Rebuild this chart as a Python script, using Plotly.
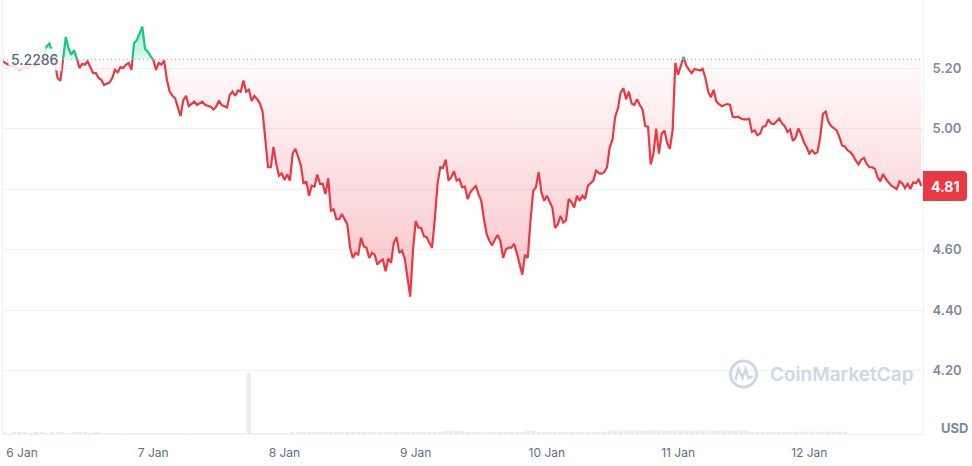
import numpy as np
import pandas as pd
import plotly.graph_objects as go

# 7-day price chart, 30 minute samples starting 5 Jan 20:30
OPEN_PRICE = 5.2286
LAST_PRICE = 4.81
START = "2025-01-05 20:30"

PRICES = [
    5.222, 5.217, 5.211, 5.205, 5.208, 5.200, 5.194, 5.197, 5.205, 5.200,
    5.208, 5.211, 5.205, 5.214, 5.222, 5.239, 5.272, 5.281, 5.255, 5.217,
    5.167, 5.158, 5.228, 5.303, 5.267, 5.244, 5.259, 5.233, 5.200, 5.214,
    5.211, 5.222, 5.205, 5.183, 5.183, 5.167, 5.161, 5.144, 5.148, 5.152,
    5.167, 5.194, 5.186, 5.203, 5.200, 5.211, 5.217, 5.194, 5.283, 5.292,
    5.317, 5.337, 5.263, 5.255, 5.239, 5.228, 5.194, 5.217, 5.211, 5.225,
    5.161, 5.122, 5.108, 5.100, 5.070, 5.041, 5.094, 5.108, 5.074,
    5.083, 5.089, 5.078, 5.083, 5.089, 5.078, 5.074, 5.072, 5.063, 5.072,
    5.092, 5.078, 5.074, 5.070, 5.111, 5.122, 5.108, 5.126, 5.122, 5.159,
    5.122, 5.128, 5.091, 5.108, 5.097, 5.083, 5.056, 4.972, 4.872, 4.872,
    4.939, 4.883, 4.844, 4.852, 4.830, 4.848, 4.828, 4.917, 4.933, 4.906,
    4.878, 4.817, 4.825, 4.778, 4.811, 4.808, 4.848, 4.817, 4.817, 4.783,
    4.836, 4.728, 4.733, 4.700, 4.700, 4.717, 4.700, 4.683, 4.606, 4.572,
    4.589, 4.583, 4.639, 4.611, 4.606, 4.572, 4.589,
    4.583, 4.550, 4.561, 4.567, 4.528, 4.570, 4.556, 4.622, 4.641, 4.589,
    4.597, 4.570, 4.506, 4.444, 4.594, 4.694, 4.672, 4.672, 4.644, 4.641,
    4.622, 4.606, 4.700, 4.817, 4.872, 4.870, 4.897, 4.828, 4.839, 4.859,
    4.828, 4.833, 4.806, 4.808, 4.767, 4.789, 4.800, 4.811, 4.783, 4.761,
    4.700, 4.650, 4.628, 4.614, 4.633, 4.648, 4.628, 4.572, 4.600, 4.606,
    4.606, 4.619, 4.589, 4.556, 4.517, 4.583, 4.572, 4.694, 4.794, 4.806,
    4.856, 4.789, 4.761, 4.778, 4.759, 4.739, 4.672, 4.683,
    4.711, 4.689, 4.697, 4.767, 4.756, 4.739, 4.778, 4.761, 4.778, 4.767,
    4.811, 4.819, 4.828, 4.861, 4.852, 4.850, 4.856, 4.872, 4.939, 4.963,
    5.039, 5.067, 5.119, 5.133, 5.097, 5.122, 5.083, 5.078, 5.097, 5.078,
    5.063, 5.008, 5.006, 4.881, 4.917, 5.000, 4.917, 4.983, 4.994, 4.952,
    4.933, 4.994, 5.217, 5.178, 5.205, 5.237, 5.208, 5.194, 5.183, 5.197,
    5.194, 5.192, 5.197, 5.167, 5.122, 5.103, 5.128, 5.089, 5.081, 5.074,
    5.078, 5.081, 5.078, 5.039, 5.037, 5.039, 5.033, 5.030,
    5.030, 5.032, 4.989, 4.994, 4.978, 4.983, 5.006, 5.008, 5.030, 5.017,
    5.014, 5.022, 5.033, 5.017, 5.008, 4.989, 4.997, 4.959, 4.970, 5.000,
    4.981, 4.955, 4.939, 4.917, 4.928, 4.917, 4.922, 4.972, 5.048, 5.056,
    5.022, 5.008, 5.000, 4.994, 4.972, 4.944, 4.941, 4.928, 4.922, 4.911,
    4.894, 4.881, 4.897, 4.903, 4.883, 4.872, 4.872, 4.867, 4.839, 4.825,
    4.850, 4.833, 4.822, 4.811, 4.806, 4.800, 4.825, 4.819, 4.803, 4.817,
    4.800, 4.822, 4.819, 4.831, 4.810,
]

# hourly volume (M USD), same start
VOLUMES = [
    0.7, 0.6, 0.8, 0.7, 0.7, 0.6, 0.8, 0.7, 0.6, 0.7, 0.8, 0.7, 0.6, 0.7, 0.7, 0.8, 0.6, 0.7,
    0.5, 0.4, 0.5, 0.6, 0.5, 0.4, 0.5, 0.5, 0.6, 0.5, 0.4, 0.5, 0.5, 0.6, 0.5, 0.4, 0.5, 0.5,
    0.6, 0.5, 0.4, 0.5, 0.5, 0.6, 0.5, 0.5, 0.6,
    42.0,
    0.6, 0.5, 0.5, 0.4, 0.5, 0.6, 0.5,
    1.3, 1.4, 1.5, 1.4, 1.3, 1.5, 1.4, 1.4, 1.6, 1.3, 1.4, 1.5, 1.4, 1.3, 1.4, 1.5, 1.4, 1.3, 1.4, 1.5,
    1.0, 0.9, 1.1, 1.0, 1.0, 0.9, 1.1, 1.0,
    2.0, 2.1, 1.9, 2.0,
    1.0, 1.1, 0.9, 1.0, 1.0, 1.1, 0.9, 1.0, 1.1, 1.0, 0.9,
    2.2, 2.3,
    1.0, 1.1, 1.0, 0.9, 1.0, 1.1, 1.0, 1.0, 0.9, 1.1, 1.0, 1.0, 1.1,
    2.4, 2.5, 2.3, 2.4, 2.5, 2.4, 2.3, 2.4, 2.6, 2.4, 2.5, 2.3, 2.4, 2.4, 2.5, 2.3, 2.4, 2.5,
    2.4, 2.3, 2.4, 2.5, 2.4, 2.3, 2.4, 2.5,
    1.4, 1.5, 1.3, 1.4, 1.4, 1.5, 1.3, 1.4,
    1.6, 1.5, 1.7, 1.6, 1.6, 1.5, 1.7, 1.6, 1.5, 1.6,
]

X_TICKS = ["2025-01-06", "2025-01-07", "2025-01-08", "2025-01-09",
           "2025-01-10", "2025-01-11", "2025-01-12"]
X_LABELS = ["6 Jan", "7 Jan", "8 Jan", "9 Jan", "10 Jan", "11 Jan", "12 Jan"]
Y_TICKS = [4.2, 4.4, 4.6, 4.8, 5.0, 5.2]
# 4.80 sits under the last-price tag, so its label is left blank
Y_LABELS = ["4.20", "4.40", "4.60", "", "5.00", "5.20"]

RED = "#ea3943"
GREEN = "#16c784"
GRID = "#eff2f5"

times = pd.date_range(START, periods=len(PRICES), freq="30min")
vol_times = pd.date_range(START, periods=len(VOLUMES), freq="1h")

# add the points where the price crosses the open so both colours meet there
t_ns = times.asi8.astype(float)
p = np.array(PRICES)
xs, ys = [t_ns[0]], [p[0]]
for i in range(1, len(p)):
    a, b = p[i - 1] - OPEN_PRICE, p[i] - OPEN_PRICE
    if a * b < 0:
        f = a / (a - b)
        xs.append(t_ns[i - 1] + f * (t_ns[i] - t_ns[i - 1]))
        ys.append(OPEN_PRICE)
    xs.append(t_ns[i])
    ys.append(p[i])
xs = pd.to_datetime(np.array(xs).astype("int64"))
ys = np.array(ys)
base = np.full(len(ys), OPEN_PRICE)

fig = go.Figure()

fig.add_trace(go.Bar(x=vol_times, y=VOLUMES, yaxis="y2", width=50 * 60 * 1000,
                     marker=dict(color="#e9ecf1", line_width=0), hoverinfo="skip"))

# red area below the open
fig.add_trace(go.Scatter(x=xs, y=base, mode="lines", line=dict(width=0), hoverinfo="skip"))
fig.add_trace(go.Scatter(
    x=xs, y=np.minimum(ys, OPEN_PRICE), mode="lines", line=dict(width=0), fill="tonexty",
    fillgradient=dict(type="vertical", start=p.min(), stop=OPEN_PRICE,
                      colorscale=[[0, "rgba(234,57,67,0.30)"], [1, "rgba(234,57,67,0.02)"]]),
    hoverinfo="skip"))
# green area above the open
fig.add_trace(go.Scatter(x=xs, y=base, mode="lines", line=dict(width=0), hoverinfo="skip"))
fig.add_trace(go.Scatter(
    x=xs, y=np.maximum(ys, OPEN_PRICE), mode="lines", line=dict(width=0), fill="tonexty",
    fillgradient=dict(type="vertical", start=OPEN_PRICE, stop=p.max(),
                      colorscale=[[0, "rgba(22,199,132,0.12)"], [1, "rgba(22,199,132,0.40)"]]),
    hoverinfo="skip"))

fig.add_trace(go.Scatter(x=xs, y=np.where(ys <= OPEN_PRICE, ys, np.nan), mode="lines",
                         line=dict(color=RED, width=2.2), hoverinfo="skip"))
fig.add_trace(go.Scatter(x=xs, y=np.where(ys >= OPEN_PRICE, ys, np.nan), mode="lines",
                         line=dict(color=GREEN, width=2.2), hoverinfo="skip"))

fig.update_layout(
    width=972, height=466,
    margin=dict(l=3, r=49, t=0, b=32),
    paper_bgcolor="white", plot_bgcolor="white",
    showlegend=False,
    font=dict(family="Inter, sans-serif", color="#58667e"),
    xaxis=dict(type="date", range=["2025-01-05 20:31", "2025-01-12 20:48"],
               tickvals=X_TICKS, ticktext=X_LABELS, showgrid=False, zeroline=False,
               showline=True, linecolor=GRID, linewidth=1,
               ticks="outside", ticklen=8, tickcolor="rgba(0,0,0,0)",
               tickfont=dict(size=12, color="#616e85")),
    yaxis=dict(side="right", range=[3.99, 5.425], tickvals=Y_TICKS, ticktext=Y_LABELS,
               showgrid=True, gridcolor=GRID, zeroline=False,
               showline=True, mirror=True, linecolor=GRID, linewidth=1,
               ticks="outside", ticklen=6, tickcolor="rgba(0,0,0,0)",
               tickfont=dict(size=13, color="#808a9d", weight=600)),
    yaxis2=dict(overlaying="y", range=[0, 300], visible=False),
)

fig.add_shape(type="line", xref="paper", x0=0, x1=1, y0=OPEN_PRICE, y1=OPEN_PRICE,
              line=dict(color="#a6b0c3", width=1, dash="1px,3px"))

fig.add_annotation(x=0, xref="paper", xanchor="left", xshift=5, y=OPEN_PRICE, yref="y",
                   text="5.2286", showarrow=False, bgcolor="rgba(255,255,255,0.85)",
                   borderpad=2, font=dict(size=14, color="#58667e", weight=500))

# last price tag
fig.add_shape(type="path", xref="paper", yref="y", xsizemode="pixel", ysizemode="pixel",
              xanchor=1, yanchor=LAST_PRICE,
              path="M 0,-15 L 40,-15 Q 44,-15 44,-11 L 44,11 Q 44,15 40,15 L 0,15 Z",
              fillcolor=RED, line=dict(width=0))
fig.add_annotation(x=1, xref="paper", xanchor="center", xshift=22, y=LAST_PRICE, yref="y",
                   text="4.81", showarrow=False, font=dict(size=14, color="white", weight=700))

fig.add_annotation(x=1, xref="paper", xanchor="center", xshift=31, y=0, yref="paper",
                   yanchor="middle", yshift=6, text="USD", showarrow=False,
                   font=dict(size=13, color="#808a9d", weight=700))

# watermark
WM = "#cfd6e4"
fig.add_shape(type="circle", xref="paper", yref="paper", xsizemode="pixel", ysizemode="pixel",
              xanchor=0.8049, yanchor=0.1382, x0=-13, x1=13, y0=-13, y1=13,
              line=dict(color=WM, width=3))
fig.add_shape(type="path", xref="paper", yref="paper", xsizemode="pixel", ysizemode="pixel",
              xanchor=0.8049, yanchor=0.1382,
              path="M -8,-6 L -5,5 L -1,-4 L 2,5 L 5,-4 L 9,-2",
              line=dict(color=WM, width=2.5))
fig.add_annotation(x=0.8315, xref="paper", xanchor="left", y=0.1382, yref="paper",
                   yanchor="middle", text="CoinMarketCap", showarrow=False,
                   font=dict(size=19, color=WM, weight=600))

# page body has a default margin; drop it so the 972x466 figure fits the window
fig.write_html("out.html", config={"displayModeBar": False},
               post_script="document.body.style.margin='0';document.body.style.overflow='hidden';")
